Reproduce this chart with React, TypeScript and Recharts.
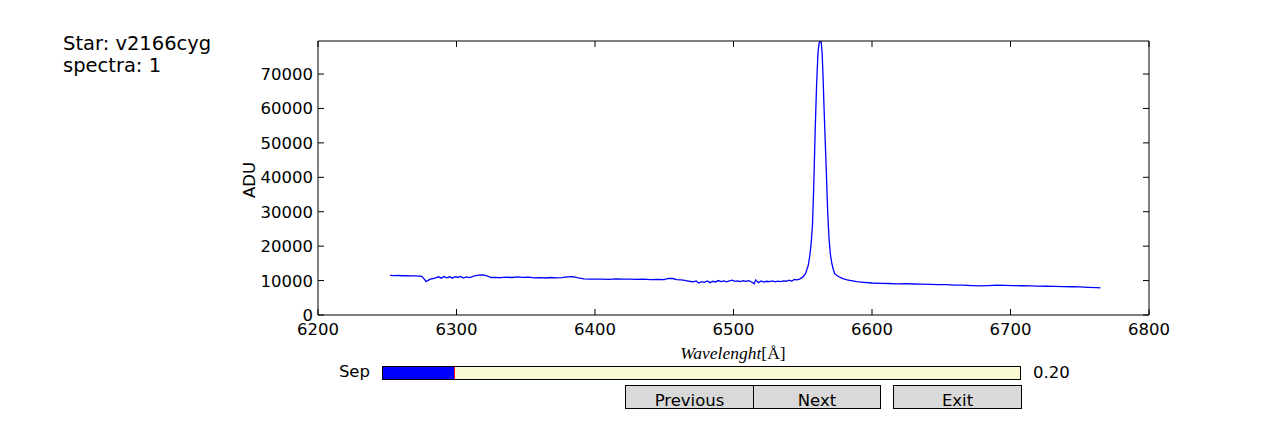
import { LineChart, Line, XAxis, YAxis } from "recharts";

// wavelength (Å) and flux (ADU)
const wavelengths = [
  6252, 6255, 6258, 6261, 6264, 6267, 6270, 6273, 6275, 6277, 6278, 6279, 6281, 6283, 6285,
  6287, 6289, 6291, 6293, 6295, 6297, 6299, 6301, 6303, 6305, 6307, 6309, 6311, 6313, 6316,
  6319, 6322, 6325, 6328, 6332, 6336, 6340, 6344, 6348, 6352, 6356, 6360, 6364, 6368, 6372,
  6376, 6380, 6384, 6388, 6392, 6396, 6400, 6405, 6410, 6415, 6420, 6425, 6430, 6435, 6440,
  6445, 6450, 6453, 6456, 6459, 6462, 6465, 6468, 6471, 6473, 6475, 6477, 6479, 6481, 6483,
  6485, 6487, 6489, 6491, 6493, 6495, 6497, 6499, 6501, 6503, 6505, 6507, 6509, 6511, 6513,
  6515, 6516, 6518, 6520, 6522, 6524, 6526, 6528, 6530, 6532, 6534, 6536, 6538, 6540, 6542,
  6544, 6546, 6548, 6550, 6552, 6553, 6554, 6555, 6556, 6557, 6557.6, 6558.3, 6559, 6560, 6561,
  6561.8, 6562.5, 6563.3, 6564, 6564.6, 6565.3, 6566, 6567, 6568, 6569, 6570, 6571, 6572, 6573, 6574,
  6575, 6577, 6579, 6582, 6585, 6589, 6594, 6600, 6606, 6612, 6618, 6624, 6630, 6636, 6642,
  6648, 6654, 6660, 6666, 6672, 6678, 6684, 6690, 6696, 6702, 6708, 6714, 6720, 6726, 6732,
  6738, 6744, 6750, 6756, 6762, 6765,
];

const flux = [
  11500, 11450, 11480, 11400, 11420, 11350, 11380, 11300, 11250, 10300, 9750, 9900, 10400, 10600, 10800,
  11100, 10700, 11200, 10800, 11100, 10700, 11150, 10900, 11200, 10750, 11050, 10850, 11100, 11400, 11600,
  11650, 11400, 10900, 10950, 10850, 11000, 10900, 11050, 10950, 11000, 10800, 10850, 10750, 10900, 10800,
  10850, 11100, 11150, 10800, 10500, 10450, 10400, 10450, 10350, 10500, 10400, 10450, 10350, 10400, 10300,
  10350, 10300, 10650, 10600, 10250, 10200, 10050, 9800, 9600, 9900, 9300, 9700, 9500, 9900, 9400,
  9800, 9600, 10000, 9700, 9900, 9650, 9900, 10100, 9750, 9900, 9700, 9950, 9800, 10000, 9600,
  9100, 10200, 9400, 9900, 9550, 9800, 9700, 9900, 9650, 9850, 9700, 9900, 9800, 10100, 9850,
  10300, 10200, 10500, 11000, 12000, 13200, 14500, 17000, 20500, 26000, 33000, 43000, 54000, 67000, 76000,
  79000, 79500, 79400, 76000, 70000, 61000, 53000, 42000, 30000, 22000, 17500, 15000, 13300, 12100, 11700,
  11400, 10900, 10600, 10200, 10000, 9700, 9500, 9300, 9200, 9150, 9050, 9100, 9000, 8950, 8900,
  8850, 8800, 8700, 8650, 8550, 8450, 8550, 8650, 8600, 8550, 8500, 8450, 8400, 8350, 8300,
  8250, 8200, 8150, 8050, 7950, 7900,
];

const xTicks = [6200, 6300, 6400, 6500, 6600, 6700, 6800];
const yTicks = [0, 10000, 20000, 30000, 40000, 50000, 60000, 70000];

const starName = "v2166cyg";
const spectraIndex = 1;
const sepValue = 0.2;
const sepMin = 0;
const sepMax = 1.8;

const data = wavelengths.map((w, i) => ({ w, flux: flux[i] }));

const FONT = "'DejaVu Sans', sans-serif";
const TICK = 6;

const BottomTick = ({ x, y, payload }: any) => (
  <g>
    <line x1={x} y1={y} x2={x} y2={y - TICK} stroke="#000" />
    <text x={x} y={y + 20} textAnchor="middle" fontSize={16.5} fontFamily={FONT} fill="#000">
      {payload.value}
    </text>
  </g>
);

const TopTick = ({ x, y }: any) => <line x1={x} y1={y} x2={x} y2={y + TICK} stroke="#000" />;

const LeftTick = ({ x, y, payload }: any) => (
  <g>
    <line x1={x} y1={y} x2={x + TICK} y2={y} stroke="#000" />
    <text x={x - 5} y={y + 6} textAnchor="end" fontSize={16.5} fontFamily={FONT} fill="#000">
      {payload.value}
    </text>
  </g>
);

const RightTick = ({ x, y }: any) => <line x1={x} y1={y} x2={x - TICK} y2={y} stroke="#000" />;

const abs = (s: any) => ({ position: "absolute" as const, ...s });

const Button = ({ left, width, label }: { left: number; width: number; label: string }) => (
  <div
    style={abs({
      left,
      top: 385,
      width: width - 2,
      height: 22,
      border: "1px solid #000",
      background: "#d9d9d9",
      fontFamily: FONT,
      fontSize: 16.5,
      textAlign: "center",
      lineHeight: "29px",
      color: "#000",
    })}
  >
    {label}
  </div>
);

export default function App() {
  const fillFrac = (sepValue - sepMin) / (sepMax - sepMin);
  return (
    <div style={abs({ left: 0, top: 0, width: 1277, height: 422, background: "#fff", overflow: "hidden" })}>
      <LineChart width={1277} height={422} data={data} margin={{ top: 40, right: 127, bottom: 77, left: 258 }}>
        <XAxis
          dataKey="w"
          type="number"
          domain={[6200, 6800]}
          ticks={xTicks}
          height={30}
          tickSize={0}
          tickMargin={0}
          tickLine={false}
          tick={BottomTick}
          axisLine={{ stroke: "#000" }}
          interval={0}
        />
        <XAxis
          xAxisId="top"
          orientation="top"
          dataKey="w"
          type="number"
          domain={[6200, 6800]}
          ticks={xTicks}
          height={1}
          tickSize={0}
          tickMargin={0}
          tickLine={false}
          tick={TopTick}
          axisLine={{ stroke: "#000" }}
          interval={0}
        />
        <YAxis
          type="number"
          domain={[0, 79600]}
          ticks={yTicks}
          width={60}
          tickSize={0}
          tickMargin={0}
          tickLine={false}
          tick={LeftTick}
          axisLine={{ stroke: "#000" }}
          interval={0}
          allowDataOverflow
        />
        <YAxis
          yAxisId="right"
          orientation="right"
          type="number"
          domain={[0, 79600]}
          ticks={yTicks}
          width={1}
          tickSize={0}
          tickMargin={0}
          tickLine={false}
          tick={RightTick}
          axisLine={{ stroke: "#000" }}
          interval={0}
          allowDataOverflow
        />
        {/* invisible twin so the top and right frame axes get drawn */}
        <Line
          xAxisId="top"
          yAxisId="right"
          type="linear"
          dataKey="flux"
          stroke="none"
          dot={false}
          activeDot={false}
          isAnimationActive={false}
        />
        <Line
          type="linear"
          dataKey="flux"
          stroke="#0000ff"
          strokeWidth={1.3}
          dot={false}
          isAnimationActive={false}
        />
      </LineChart>

      <div style={abs({ left: 63, top: 33, fontFamily: FONT, fontSize: 19.5, lineHeight: "22px", color: "#000" })}>
        <div>Star: {starName}</div>
        <div>spectra: {spectraIndex}</div>
      </div>

      <div
        style={abs({
          left: 249,
          top: 180,
          transform: "translate(-50%, -50%) rotate(-90deg)",
          fontFamily: FONT,
          fontSize: 16.5,
          color: "#000",
          whiteSpace: "nowrap",
        })}
      >
        ADU
      </div>

      <div
        style={abs({
          left: 733,
          top: 353,
          transform: "translate(-50%, -50%)",
          fontFamily: "'Liberation Serif', serif",
          fontSize: 17.5,
          color: "#000",
          whiteSpace: "nowrap",
        })}
      >
        <i>Wavelenght</i>[Å]
      </div>

      <div style={abs({ left: 300, top: 362, width: 70, textAlign: "right", fontFamily: FONT, fontSize: 16.5, color: "#000" })}>
        Sep
      </div>
      <div
        style={abs({
          left: 382,
          top: 366,
          width: 637,
          height: 12,
          border: "1px solid #000",
          background: "#fafad2",
        })}
      >
        <div style={abs({ left: 0, top: 0, width: 637 * fillFrac, height: 12, background: "#0000ff", borderRight: "1.5px solid #ff0000" })} />
      </div>
      <div style={abs({ left: 1033, top: 363, fontFamily: FONT, fontSize: 16.5, color: "#000" })}>
        {sepValue.toFixed(2)}
      </div>

      <Button left={625} width={129} label="Previous" />
      <Button left={753} width={128} label="Next" />
      <Button left={893} width={129} label="Exit" />
    </div>
  );
}
